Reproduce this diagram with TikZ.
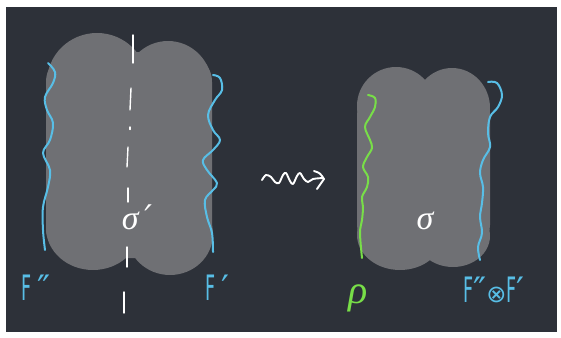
\documentclass[tikz,border=0pt]{standalone}
\usepackage{fontspec}
\usepackage{graphicx}
\newfontfamily\dvfont{DejaVu Sans}
\newfontfamily\lsfont{Liberation Serif}
\definecolor{board}{RGB}{45,49,57}
\definecolor{blobgray}{RGB}{111,112,116}
\definecolor{chalkblue}{RGB}{88,190,230}
\definecolor{chalkgreen}{RGB}{120,222,72}
\tikzset{
  blob/.style={fill=blobgray},
  wave/.style={line width=2pt, line cap=round, line join=round},
  axisdash/.style={white, line width=1.4pt, line cap=round},
  chalk/.style={inner sep=0pt, font=\fontsize{35}{35}\selectfont\dvfont},
  greek/.style={inner sep=0pt, font=\fontsize{34}{34}\selectfont\lsfont\itshape},
  squiggle/.style={white, line width=1.9pt, line cap=round, line join=round},
}
\newcommand{\hF}{\scalebox{0.5}[1]{F}}
\begin{document}
\begin{tikzpicture}[x=1pt,y=-1pt]
\fill[white] (0,0) rectangle (561,337);
\useasboundingbox (0,0) rectangle (561,337);
\fill[board] (6,7) rectangle (557,332);

% left blob
\fill[blob, rounded corners=30pt] (46,52) rectangle (212,258);
\fill[blob] (97,82) ellipse [x radius=50pt, y radius=49pt];
\fill[blob] (168,86) ellipse [x radius=44pt, y radius=45pt];
\fill[blob] (93,228) ellipse [x radius=47pt, y radius=42pt];
\fill[blob] (170,234) ellipse [x radius=43pt, y radius=41pt];

% right blob
\fill[blob, rounded corners=25pt] (357,90) rectangle (490,250);
\fill[blob] (396,106) ellipse [x radius=39pt, y radius=39pt];
\fill[blob] (452,108) ellipse [x radius=38pt, y radius=40pt];
\fill[blob] (400,235) ellipse [x radius=43pt, y radius=35pt];
\fill[blob] (453,236) ellipse [x radius=37pt, y radius=31pt];

% dash-dot axis
\draw[axisdash] (133,35) -- (133,63);
\draw[axisdash] (131,88) -- (130,110);
\draw[axisdash] (130,127) -- (130,129.5);
\draw[axisdash] (128,147) -- (127,167);
\draw[axisdash] (128,188) -- (128,202);
\draw[axisdash] (127,247) -- (127,267);
\draw[axisdash] (124,292) -- (124,313);

% waves of left blob
\draw[wave, chalkblue] plot[smooth, tension=0.6] coordinates {(48,63) (55,72) (53,83) (45,97) (47,110) (53,123) (50,140) (43,153) (50,170) (48,187) (43,207) (43,230) (45,250)};
\draw[wave, chalkblue] plot[smooth, tension=0.6] coordinates {(213,75) (220,78) (222,90) (215,100) (208,115) (213,130) (220,140) (213,150) (203,160) (207,170) (217,183) (213,190) (205,200) (207,217) (212,233) (213,252)};

% waves of right blob
\draw[wave, chalkgreen] plot[smooth, tension=0.6] coordinates {(368,95) (375,98) (375,107) (370,117) (365,127) (370,140) (372,148) (367,157) (363,167) (368,177) (367,187) (362,197) (363,207) (362,220) (360,233) (362,258)};
\draw[wave, chalkblue] plot[smooth, tension=0.6] coordinates {(488,82) (497,83) (502,95) (498,107) (490,117) (488,133) (490,147) (483,160) (480,173) (483,187) (482,203) (480,217) (482,233) (478,247) (480,260)};

% squiggly arrow
\draw[squiggle] plot[smooth, tension=0.55] coordinates {(262,180) (266,175) (271,177) (275,182) (279,183) (283,175) (286,173) (290,181) (293,184) (297,176) (300,173) (304,179) (308,182) (313,179) (323,178)};
\draw[squiggle] (314,171) .. controls (320,173) .. (324,179) .. controls (321,184) .. (317,189);

% labels
\node[greek, text=white] (sigp) at (137,217) {σ\dvfont\,′};
\node[greek, text=white] (sig) at (425,221) {σ};
\node[chalk, text=chalkblue, anchor=base west] (Fpp) at (21,300) {\hF\,″};
\node[chalk, text=chalkblue, anchor=base west] (Fp) at (205,300) {\hF\,′};
\node[greek, text=chalkgreen, font=\fontsize{40}{40}\selectfont\lsfont\itshape] (rho) at (358,298) {ρ};
\node[chalk, text=chalkblue, anchor=base west] (Ften) at (463,302) {\hF″{\fontsize{24}{24}\selectfont⊗}\hF′};
\end{tikzpicture}
\end{document}
